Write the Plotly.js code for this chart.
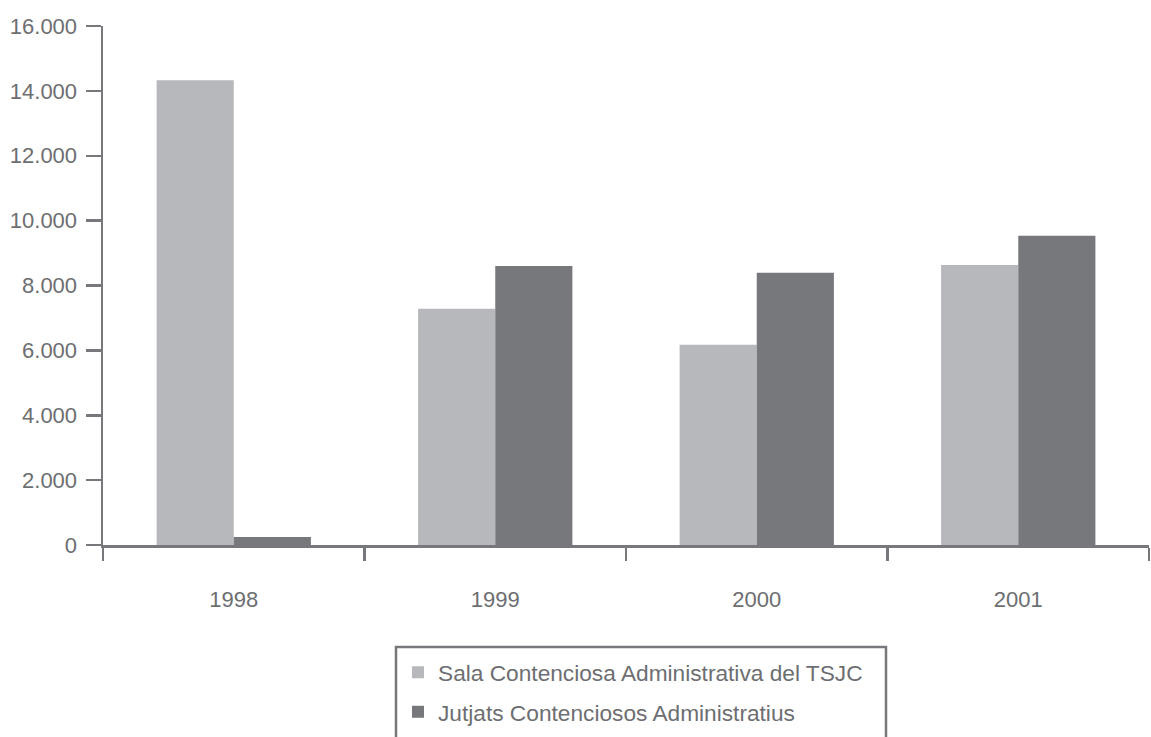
<!DOCTYPE html>
<html>
<head>
<meta charset="utf-8">
<script src="https://cdn.plot.ly/plotly-3.0.1.min.js"></script>
<style>html,body{margin:0;padding:0;background:#fff;}#chart{width:1151px;height:737px;}</style>
</head>
<body>
<div id="chart"></div>
<script>
const years = ["1998", "1999", "2000", "2001"];
const salaTSJC = [14330, 7280, 6170, 8630];
const jutjats = [250, 8600, 8390, 9530];
const seriesNames = ["Sala Contenciosa Administrativa del TSJC", "Jutjats Contenciosos Administratius"];
const yTickVals = [0, 2000, 4000, 6000, 8000, 10000, 12000, 14000, 16000];

const lightGrey = "#b7b8bb";
const darkGrey = "#77787b";
const axisGrey = "#77787b";
const textGrey = "#6d6e71";
const FONT = "Liberation Sans, Arial, Helvetica, sans-serif";

const data = [
  {type: "bar", x: years, y: salaTSJC, name: seriesNames[0], legendgroup: "a",
   marker: {color: lightGrey, line: {width: 0}}, hoverinfo: "skip"},
  {type: "bar", x: years, y: jutjats, name: seriesNames[1], legendgroup: "b",
   marker: {color: darkGrey, line: {width: 0}}, hoverinfo: "skip"}
];

const plotL = 103, plotR = 1149, plotT = 26, plotB = 545;
const pw = plotR - plotL, ph = plotB - plotT;
function px(x) { return (x - plotL) / pw; }
function py(y) { return (plotB - y) / ph; }

const layout = {
  width: 1151, height: 737,
  margin: {l: plotL, r: 1151 - plotR, t: plotT, b: 737 - plotB},
  paper_bgcolor: "#ffffff", plot_bgcolor: "#ffffff",
  separators: ",.",
  font: {family: FONT, color: textGrey, size: 22},
  barmode: "group",
  bargap: 0.41,
  bargroupgap: 0,
  showlegend: true,
  xaxis: {
    type: "category", range: [-0.5, 3.5], fixedrange: true,
    showgrid: false, zeroline: false,
    showline: true, linecolor: axisGrey, linewidth: 2.5,
    ticks: "outside", tickson: "boundaries", ticklen: 13, tickwidth: 2.5, tickcolor: axisGrey,
    ticklabelstandoff: 33,
    tickfont: {family: FONT, size: 22, color: textGrey}
  },
  yaxis: {
    range: [0, 16000], fixedrange: true, tickvals: yTickVals, tickformat: ",d",
    showgrid: false, zeroline: false,
    showline: true, linecolor: axisGrey, linewidth: 2.5,
    ticks: "outside", ticklen: 15, tickwidth: 2.5, tickcolor: axisGrey,
    ticklabelstandoff: 4,
    tickfont: {family: FONT, size: 22, color: textGrey}
  },
  legend: {
    x: px(398), y: py(651), xanchor: "left", yanchor: "top",
    bgcolor: "rgba(0,0,0,0)", borderwidth: 0,
    font: {family: FONT, size: 22.7, color: textGrey},
    tracegroupgap: 7, traceorder: "grouped"
  },
  shapes: [{
    type: "path", xref: "paper", yref: "paper",
    path: "M " + px(396) + "," + py(760) + " L " + px(396) + "," + py(647) +
          " L " + px(886) + "," + py(647) + " L " + px(886) + "," + py(760),
    line: {color: axisGrey, width: 2.5}
  }]
};

Plotly.newPlot("chart", data, layout, {displayModeBar: false, staticPlot: true});
</script>
</body>
</html>
